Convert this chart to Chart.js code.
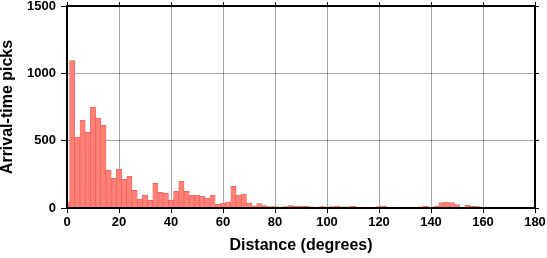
<!DOCTYPE html>
<html>
<head>
<meta charset="utf-8">
<script src="https://cdn.jsdelivr.net/npm/chart.js@4/dist/chart.umd.min.js"></script>
<style>
    html, body { margin: 0; padding: 0; background: #fff; }
    #wrap { width: 547px; height: 258px; }
</style>
</head>
<body>
<div id="wrap"><canvas id="histChart" width="547" height="258"></canvas></div>
<script>
// bin centres (degrees), 2 degree bins
const binCenters = Array.from({ length: 91 }, (v, i) => i * 2);
const pickCounts = [
    45, 1095, 527, 651, 562, 748, 666, 614, 280, 220, 287,
    213, 235, 131, 65, 94, 57, 183, 116, 109, 57,
    124, 198, 124, 94, 94, 87, 72, 94, 27, 35,
    45, 160, 95, 102, 38, 16, 33, 18, 10, 10,
    7, 10, 18, 14, 12, 12, 9, 3, 10, 7,
    10, 15, 8, 8, 12, 7, 5, 7, 7, 10,
    12, 7, 5, 5, 5, 3, 2, 8, 12, 5,
    15, 40, 42, 40, 25, 5, 20, 12, 10, 7,
    5, 5, 5, 3, 2, 1, 1, 1, 1, 0
];
const xTicks = [0, 20, 40, 60, 80, 100, 120, 140, 160, 180];
const yTicks = [0, 500, 1000, 1500];

const FONT = '"Liberation Sans", Helvetica, Arial, sans-serif';

// black frame around the plot area
const framePlugin = {
    id: 'frame',
    afterDraw(chart) {
        const a = chart.chartArea;
        const ctx = chart.ctx;
        ctx.save();
        ctx.strokeStyle = '#000';
        ctx.lineWidth = 2;
        ctx.strokeRect(a.left, a.top, a.right - a.left, a.bottom - a.top);
        ctx.restore();
    }
};

function fixTicks(list) {
    return function (scale) {
        scale.ticks = list.map(v => ({ value: v }));
    };
}

// no extra room for labels hanging past the ends of an axis
function noPad(scale) {
    scale.paddingTop = 0;
    scale.paddingBottom = 0;
    scale.paddingLeft = 0;
    scale.paddingRight = 0;
}

const plain = v => String(v);

new Chart('histChart', {
    type: 'bar',
    data: {
        datasets: [{
            data: binCenters.map((x, i) => ({ x: x, y: pickCounts[i] })),
            backgroundColor: 'rgb(255,128,118)',
            borderColor: 'rgb(240,85,80)',
            borderWidth: 0.6,
            barPercentage: 1,
            categoryPercentage: 1,
            grouped: false
        }]
    },
    options: {
        responsive: false,
        animation: false,
        layout: { padding: { left: 0, right: 12, top: 6, bottom: 0 } },
        plugins: {
            legend: { display: false },
            tooltip: { enabled: false }
        },
        scales: {
            x: {
                type: 'linear',
                min: 0, max: 180,
                offset: false,
                afterBuildTicks: fixTicks(xTicks),
                afterFit(scale) { scale.height = 50; noPad(scale); },
                grid: { offset: false, color: 'rgba(0,0,0,0.35)', tickColor: '#000', tickLength: 5, lineWidth: 1 },
                border: { color: '#000', width: 2 },
                ticks: { callback: plain, color: '#000', font: { family: FONT, size: 13, weight: 'bold' }, padding: 2, maxRotation: 0 },
                title: { display: true, text: 'Distance (degrees)', color: '#000', font: { family: FONT, size: 16, weight: 'bold' }, padding: { top: 0, bottom: 3 } }
            },
            y: {
                min: 0, max: 1500,
                afterBuildTicks: fixTicks(yTicks),
                afterFit(scale) { scale.width = 67; noPad(scale); },
                grid: { color: 'rgba(0,0,0,0.35)', tickColor: '#000', tickLength: 6, lineWidth: 1 },
                border: { color: '#000', width: 2 },
                ticks: { callback: plain, color: '#000', font: { family: FONT, size: 13, weight: 'bold' }, padding: 5 },
                title: { display: true, text: 'Arrival-time picks', color: '#000', font: { family: FONT, size: 16, weight: 'bold', lineHeight: 1 }, padding: { top: 0, bottom: 0 } }
            },
            xTop: {
                type: 'linear', position: 'top',
                min: 0, max: 180,
                offset: false,
                afterBuildTicks: fixTicks(xTicks),
                afterFit(scale) { scale.height = 0; noPad(scale); },
                grid: { offset: false, drawOnChartArea: false, tickColor: '#000', tickLength: 4 },
                border: { color: '#000', width: 2 },
                ticks: { display: false }
            },
            yRight: {
                type: 'linear', position: 'right',
                min: 0, max: 1500,
                afterBuildTicks: fixTicks(yTicks),
                afterFit(scale) { scale.width = 0; noPad(scale); },
                grid: { drawOnChartArea: false, tickColor: '#000', tickLength: 4 },
                border: { color: '#000', width: 2 },
                ticks: { display: false }
            }
        }
    },
    plugins: [framePlugin]
});
</script>
</body>
</html>
